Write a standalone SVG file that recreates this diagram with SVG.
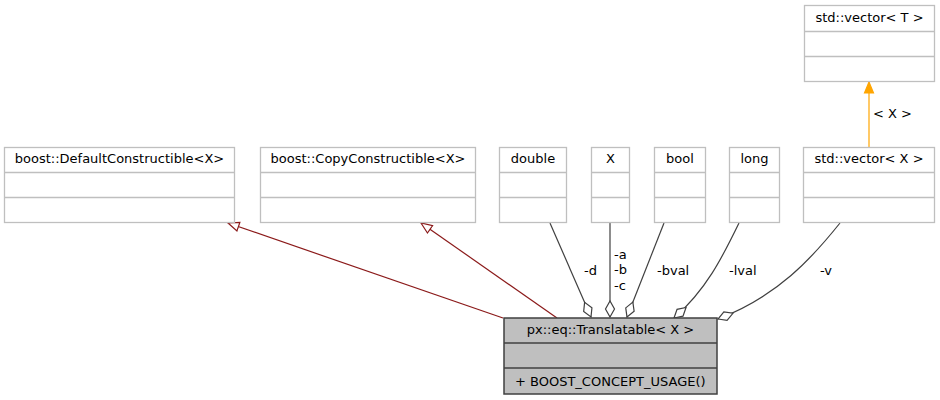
<svg xmlns="http://www.w3.org/2000/svg" width="940" height="400" viewBox="0 0 940 400">
<style>
text{font-family:"DejaVu Sans","Liberation Sans",sans-serif;font-size:13px;fill:#000}
.c{text-anchor:middle}
.box{fill:#fff;stroke:#bfbfbf;stroke-width:1.3}
.main{fill:#bfbfbf;stroke:#404040;stroke-width:1.5}
.sep{stroke:#bfbfbf;stroke-width:1.3}
.msep{stroke:#404040;stroke-width:1.5}
.inh{fill:none;stroke:#8b1a1a;stroke-width:1.2}
.agg{fill:none;stroke:#404040;stroke-width:1.2}
.tpl{fill:none;stroke:#ffa500;stroke-width:1.2}
</style>
<defs>
<marker id="tri" markerUnits="userSpaceOnUse" markerWidth="14" markerHeight="12" viewBox="-12 -6 14 12" refX="0" refY="0" orient="auto">
<path d="M0,0 L-11,-4.5 L-11,4.5 Z" fill="#fff" stroke="#8b1a1a" stroke-width="1.2"/>
</marker>
<marker id="dia" markerUnits="userSpaceOnUse" markerWidth="20" markerHeight="12" viewBox="-18 -6 20 12" refX="0" refY="0" orient="auto">
<path d="M0,0 L-8,-4.5 L-16,0 L-8,4.5 Z" fill="#fff" stroke="#404040" stroke-width="1.2"/>
</marker>
<marker id="otri" markerUnits="userSpaceOnUse" markerWidth="14" markerHeight="12" viewBox="-12 -6 14 12" refX="0" refY="0" orient="auto">
<path d="M0,0 L-11,-4.5 L-11,4.5 Z" fill="#ffa500" stroke="#ffa500" stroke-width="1.2"/>
</marker>
</defs>

<g id="edges">
<path class="inh" d="M503,318 L228,223" marker-end="url(#tri)"/>
<path class="inh" d="M557,318 L421,223" marker-end="url(#tri)"/>
<path class="agg" d="M550,223 L591,317" marker-end="url(#dia)"/>
<path class="agg" d="M610,223 L610,317" marker-end="url(#dia)"/>
<path class="agg" d="M664,223 L627,317" marker-end="url(#dia)"/>
<path class="agg" d="M739,223 C722,258 706,290 674,318" marker-end="url(#dia)"/>
<path class="agg" d="M840,223 C812,258 778,296 718,319" marker-end="url(#dia)"/>
<path class="tpl" d="M869,148 L869,82" marker-end="url(#otri)"/>
<text x="584" y="274.5">-d</text>
<text x="614" y="258.5">-a</text>
<text x="614" y="274">-b</text>
<text x="614" y="289.5">-c</text>
<text x="657" y="274.5">-bval</text>
<text x="729" y="274.5">-lval</text>
<text x="820" y="274.5">-v</text>
<text x="873" y="118">&lt; X &gt;</text>
</g>

<g id="node-main">
<rect class="main" x="504" y="318" width="213" height="76"/>
<line class="msep" x1="504" y1="343" x2="717" y2="343"/>
<line class="msep" x1="504" y1="368" x2="717" y2="368"/>
<text class="c" x="610.5" y="334">px::eq::Translatable&lt; X &gt;</text>
<text x="515" y="386">+ BOOST_CONCEPT_USAGE()</text>
</g>

<g id="node-default">
<rect class="box" x="4.5" y="147.5" width="230" height="75"/>
<line class="sep" x1="4.5" y1="172.5" x2="234.5" y2="172.5"/>
<line class="sep" x1="4.5" y1="197.5" x2="234.5" y2="197.5"/>
<text class="c" x="119.5" y="163">boost::DefaultConstructible&lt;X&gt;</text>
</g>

<g id="node-copy">
<rect class="box" x="260.5" y="147.5" width="215" height="75"/>
<line class="sep" x1="260.5" y1="172.5" x2="475.5" y2="172.5"/>
<line class="sep" x1="260.5" y1="197.5" x2="475.5" y2="197.5"/>
<text class="c" x="368" y="163">boost::CopyConstructible&lt;X&gt;</text>
</g>

<g id="node-double">
<rect class="box" x="499.5" y="147.5" width="67" height="75"/>
<line class="sep" x1="499.5" y1="172.5" x2="566.5" y2="172.5"/>
<line class="sep" x1="499.5" y1="197.5" x2="566.5" y2="197.5"/>
<text class="c" x="533" y="163">double</text>
</g>

<g id="node-X">
<rect class="box" x="591.5" y="147.5" width="38" height="75"/>
<line class="sep" x1="591.5" y1="172.5" x2="629.5" y2="172.5"/>
<line class="sep" x1="591.5" y1="197.5" x2="629.5" y2="197.5"/>
<text class="c" x="610.5" y="163">X</text>
</g>

<g id="node-bool">
<rect class="box" x="654.5" y="147.5" width="51" height="75"/>
<line class="sep" x1="654.5" y1="172.5" x2="705.5" y2="172.5"/>
<line class="sep" x1="654.5" y1="197.5" x2="705.5" y2="197.5"/>
<text class="c" x="680" y="163">bool</text>
</g>

<g id="node-long">
<rect class="box" x="729.5" y="147.5" width="50" height="75"/>
<line class="sep" x1="729.5" y1="172.5" x2="779.5" y2="172.5"/>
<line class="sep" x1="729.5" y1="197.5" x2="779.5" y2="197.5"/>
<text class="c" x="754.5" y="163">long</text>
</g>

<g id="node-vecX">
<rect class="box" x="803.5" y="147.5" width="131" height="75"/>
<line class="sep" x1="803.5" y1="172.5" x2="934.5" y2="172.5"/>
<line class="sep" x1="803.5" y1="197.5" x2="934.5" y2="197.5"/>
<text class="c" x="869" y="163">std::vector&lt; X &gt;</text>
</g>

<g id="node-vecT">
<rect class="box" x="804.5" y="5.5" width="130" height="76"/>
<line class="sep" x1="804.5" y1="31.5" x2="934.5" y2="31.5"/>
<line class="sep" x1="804.5" y1="56.5" x2="934.5" y2="56.5"/>
<text class="c" x="869.5" y="22">std::vector&lt; T &gt;</text>
</g>
</svg>
